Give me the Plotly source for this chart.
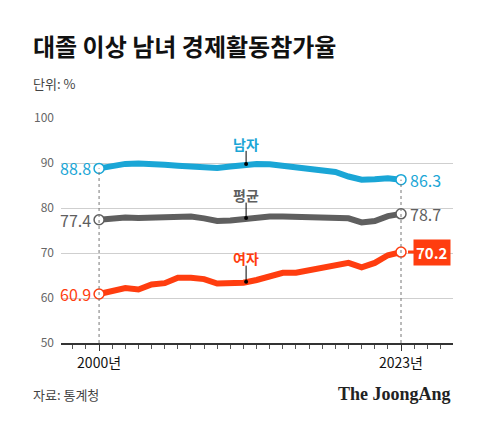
import plotly.graph_objects as go

years = list(range(2000, 2024))
men = [88.8, 89.4, 89.8, 89.9, 89.6, 89.6, 89.4, 89.3, 88.9, 88.9, 89.2, 89.6, 89.8, 89.7, 89.4, 89.1, 88.8, 88.6, 88.0, 87.0, 86.3, 86.4, 86.6, 86.3]
avg = [77.4, 77.7, 77.9, 77.8, 77.9, 77.9, 78.1, 78.1, 77.7, 77.1, 77.2, 77.6, 77.9, 78.1, 78.1, 78.0, 78.0, 78.0, 77.8, 77.7, 76.8, 77.1, 78.2, 78.7]
women = [60.9, 61.6, 62.2, 61.9, 63.0, 63.3, 64.5, 64.5, 64.2, 63.2, 63.3, 63.4, 64.0, 64.8, 65.6, 65.6, 66.1, 66.6, 67.2, 67.8, 66.8, 67.8, 69.5, 70.2]
yticks = [50, 60, 70, 80, 90, 100]

BLUE, GRAY, RED = "#1aa6d6", "#5f5f5f", "#ff3d0f"
F = "Noto Sans CJK KR"
H = 225
fig = go.Figure()
for x in (2000, 2023):
    fig.add_shape(type="line", x0=x, x1=x, y0=50, y1=men[years.index(x)],
                  line=dict(color="#777", width=1, dash="dot"))
for ser, c, name, lx, ly in ((men, BLUE, "남자", 2011.2, 94.3), (avg, GRAY, "평균", 2011.2, 82.8), (women, RED, "여자", 2011.2, 68.8)):
    fig.add_trace(go.Scatter(x=years, y=ser, mode="lines", line=dict(color=c, width=6), hoverinfo="skip"))
    fig.add_trace(go.Scatter(x=[years[0], years[-1]], y=[ser[0], ser[-1]], mode="markers",
                             marker=dict(size=10, color="white", line=dict(color=c, width=1.5))))
    fig.add_trace(go.Scatter(x=[lx], y=[ser[years.index(2011)] + 0.2], mode="markers", marker=dict(size=4, color="black")))
    fig.add_shape(type="line", x0=lx, x1=lx, y0=ser[years.index(2011)], y1=ly - 1.6, line=dict(color="black", width=1))
    fig.add_annotation(x=lx, y=ly, text=f"<b>{name}</b>", showarrow=False, font=dict(family=F, size=14, color=c))
    fig.add_annotation(x=2000, y=ser[0], text=f"{ser[0]}", xanchor="right", xshift=-6, showarrow=False,
                       font=dict(family=F, size=16, color=c))
    if name != "여자":
        fig.add_annotation(x=2023, y=ser[-1], text=f"{ser[-1]}", xanchor="left", xshift=7, showarrow=False,
                           font=dict(family=F, size=16, color=c))
    else:
        fig.add_annotation(x=2023, y=ser[-1], text=f"<b>{ser[-1]}</b>", xanchor="left", xshift=12, showarrow=False,
                           bgcolor=RED, borderpad=2, font=dict(family=F, size=15, color="white"))
        fig.add_annotation(x=2023, y=ser[-1], ax=14, ay=0, text="", showarrow=True, arrowhead=0,
                           arrowcolor=RED, arrowwidth=3, xshift=7)

X0 = -30 / 392
fig.add_annotation(xref="paper", yref="paper", x=X0, y=1.0 + 72 / H, xanchor="left", yanchor="middle",
                   text="<b>대졸 이상 남녀 경제활동참가율</b>", showarrow=False, font=dict(family=F, size=24, color="#111"))
fig.add_annotation(xref="paper", yref="paper", x=X0, y=1.0 + 35 / H, xanchor="left", yanchor="middle",
                   text="단위: %", showarrow=False, font=dict(family=F, size=13, color="#444"))
fig.add_annotation(xref="paper", yref="paper", x=X0, y=-51 / H, xanchor="left", yanchor="middle",
                   text="자료: 통계청", showarrow=False, font=dict(family=F, size=13, color="#444"))
fig.add_annotation(xref="paper", yref="paper", x=1.0, y=-51 / H, xanchor="right", yanchor="middle",
                   text="<b>The JoongAng</b>", showarrow=False, font=dict(family="Liberation Serif", size=18, color="#222"))

fig.update_layout(width=480, height=422, margin=dict(l=53, r=35, t=110, b=87), showlegend=False,
                  plot_bgcolor="white", paper_bgcolor="white")
fig.update_xaxes(range=[1997.1, 2026.96], showgrid=False, tickvals=[2000, 2023], ticktext=["2000년", "2023년"],
                 ticks="outside", ticklen=6, tickcolor="#333", showline=True, linecolor="#333", linewidth=1.5,
                 minor=dict(dtick=1, tick0=2000, ticks="outside", ticklen=4, tickcolor="#555"),
                 tickfont=dict(family=F, size=14, color="#111"), zeroline=False)
fig.update_yaxes(range=[50, 100], tickvals=yticks, showgrid=True, gridcolor="#cfcfcf", zeroline=False,
                 tickfont=dict(family=F, size=12, color="#666"), ticklabelstandoff=6)
fig.write_html("out.html")
